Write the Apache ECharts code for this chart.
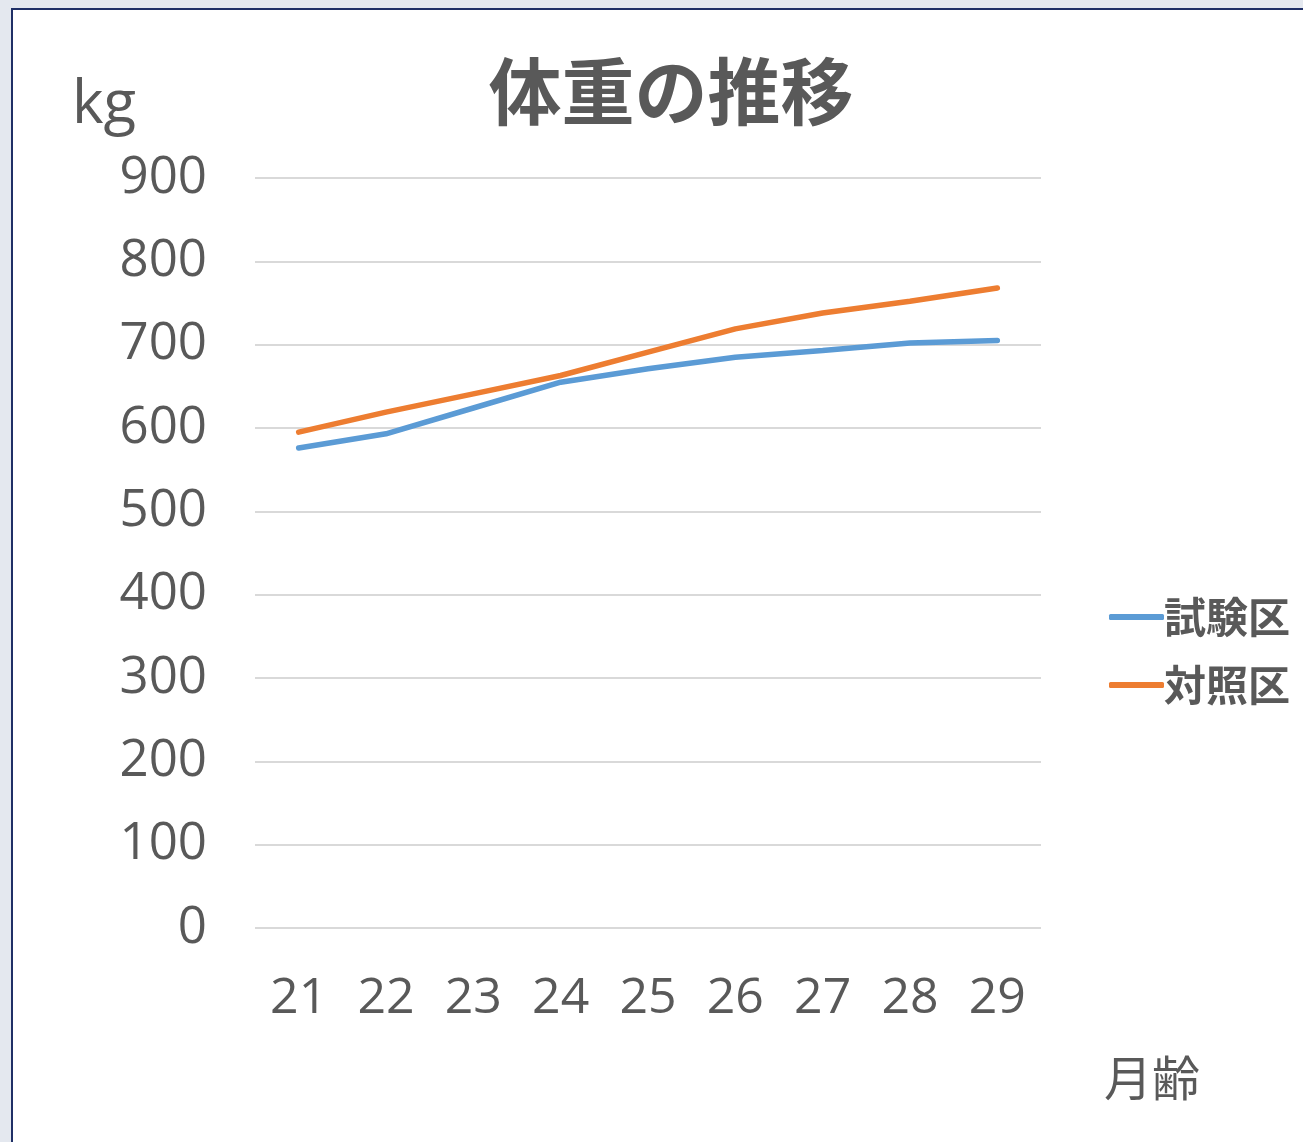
<!DOCTYPE html>
<html>
<head>
<meta charset="utf-8">
<script src="https://cdn.jsdelivr.net/npm/echarts@6/dist/echarts.min.js"></script>
<style>
html, body { margin:0; padding:0; background:#e4e8ef; }
#frame { position:absolute; left:11px; top:8px; width:1292px; height:1134px; background:#fff;
  border-left:2px solid #1f2f66; border-top:2px solid #1f2f66; box-sizing:border-box; }
#main { position:absolute; left:0; top:0; width:1303px; height:1142px; }
</style>
</head>
<body>
<div id="frame"></div>
<div id="main"></div>
<script>
var months = ['21','22','23','24','25','26','27','28','29'];
var testGroup = [576, 593, 624, 655, 671, 685, 693, 702, 705];
var controlGroup = [595, 619, 641, 663, 691, 719, 738, 752, 768];
var yTicks = [0, 900, 100];

var chart = echarts.init(document.getElementById('main'));
var textColor = '#595959';
var option = {
	backgroundColor: 'transparent',
	animation: false,
	title: {
		text: '体重の推移',
		left: 666,
		top: 50,
		textAlign: 'center',
		textStyle: {
			fontFamily: 'Noto Sans CJK JP',
			fontWeight: 'bold',
			fontSize: 73,
			color: textColor
		}
	},
	legend: {
		orient: 'vertical',
		left: 1104,
		top: 591,
		itemWidth: 55,
		itemHeight: 6,
		itemGap: 26,
		icon: 'roundRect',
		textStyle: {
			fontFamily: 'Noto Sans CJK JP',
			fontWeight: 'bold',
			fontSize: 42,
			color: textColor,
			padding: [0, 0, 0, -5]
		},
		data: ['試験区', '対照区']
	},
	grid: {
		left: 255,
		right: 262,
		top: 178,
		bottom: 214
	},
	xAxis: {
		type: 'category',
		data: months,
		boundaryGap: true,
		axisLine: { show: false },
		axisTick: { show: false },
		axisLabel: {
			margin: 46,
			fontFamily: 'Open Sans',
			fontSize: 50,
			color: textColor
		}
	},
	yAxis: {
		type: 'value',
		min: yTicks[0],
		max: yTicks[1],
		interval: yTicks[2],
		axisLine: { show: false },
		axisTick: { show: false },
		splitLine: { lineStyle: { color: '#d9d9d9', width: 2 } },
		axisLabel: {
			margin: 48,
			fontFamily: 'Open Sans',
			fontSize: 51,
			color: textColor,
			padding: [14, 0, 0, 0]
		}
	},
	graphic: [
		{
			type: 'text',
			left: 72,
			top: 76,
			style: {
				text: 'kg',
				fontFamily: 'Open Sans',
				fontSize: 60,
				fill: textColor
			}
		},
		{
			type: 'text',
			left: 1104,
			top: 1054,
			style: {
				text: '月齢',
				fontFamily: 'Noto Sans CJK JP',
				fontSize: 48,
				fill: textColor
			}
		}
	],
	series: [
		{
			name: '試験区',
			type: 'line',
			data: testGroup,
			symbol: 'none',
			lineStyle: { color: '#5b9bd5', width: 5.5, cap: 'round' },
			itemStyle: { color: '#5b9bd5' }
		},
		{
			name: '対照区',
			type: 'line',
			data: controlGroup,
			symbol: 'none',
			lineStyle: { color: '#ed7d31', width: 5.5, cap: 'round' },
			itemStyle: { color: '#ed7d31' }
		}
	]
};
chart.setOption(option);
</script>
</body>
</html>
